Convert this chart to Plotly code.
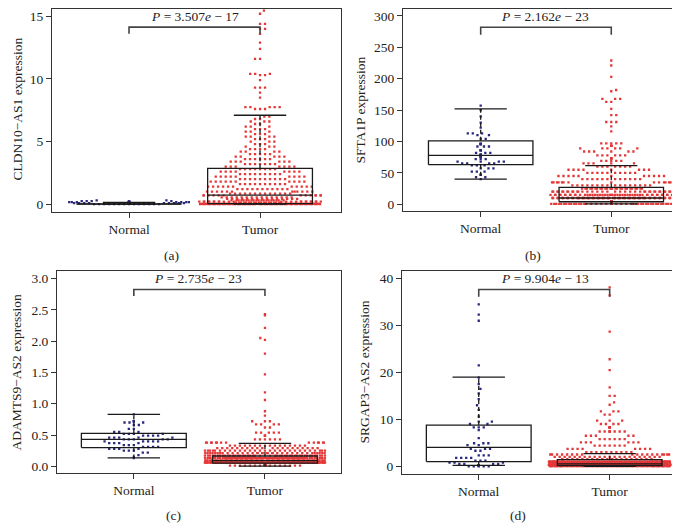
import numpy as np
import plotly.graph_objects as go

# ---------------- DATA ----------------
groups = ["Normal", "Tumor"]

# Panel (a) CLDN10-AS1 : value levels and number of points at each level
a_normal_vals = [0.0, 0.04, 0.08, 0.12, 0.16, 0.2, 0.25, 0.3]
a_normal_counts = [14, 10, 9, 8, 7, 5, 4, 2]
a_tumor_vals = [15.45, 15.2, 14.4, 14.0, 13.6, 12.9, 12.4, 11.6, 10.4, 10.3, 9.9, 9.3, 8.9, 8.5,
                7.75, 7.6, 7.0, 6.8, 6.6, 6.4, 6.2, 6.0, 5.8, 5.6, 5.4, 5.2, 5.0, 4.8, 4.6, 4.4,
                4.2, 4.0, 3.8, 3.6, 3.4, 3.2, 3.0, 2.8, 2.6, 2.4, 2.2, 2.0, 1.8, 1.6, 1.4, 1.2,
                1.0, 0.85, 0.7, 0.55, 0.42, 0.3, 0.2, 0.12, 0.06, 0.02, 0.0]
a_tumor_counts = [1, 1, 2, 2, 1, 1, 1, 2, 3, 2, 1, 3, 1, 1,
                  5, 3, 2, 2, 3, 2, 3, 3, 3, 3, 4, 3, 3, 3, 3, 4,
                  4, 5, 5, 6, 6, 7, 7, 8, 8, 9, 9, 10, 10, 10, 11, 11,
                  12, 13, 13, 15, 15, 20, 25, 25, 40, 40, 48]
a_normal_box = [0.0, 0.01, 0.03, 0.06, 0.15]   # lower whisker, Q1, median, Q3, upper whisker
a_tumor_box = [0.0, 0.05, 0.72, 2.86, 7.1]
a_ylabel = "CLDN10\u2212AS1 expression"
a_p = "<i>P</i> = 3.507<i>e</i> \u2212 17"
a_yticks = [0, 5, 10, 15]

# Panel (b) SFTA1P
b_normal_vals = [157, 150, 140, 130, 122, 113, 110, 104, 96, 92, 86, 82, 79, 76, 72, 68, 65, 62,
                 57, 52, 47, 43, 40]
b_normal_counts = [1, 1, 1, 1, 1, 3, 2, 2, 4, 3, 3, 3, 3, 4, 3, 4, 4, 3, 3, 3, 2, 2, 1]
b_tumor_vals = [229, 221, 203, 182, 180, 168, 163, 152, 142, 131, 124, 116,
                97, 93, 89, 84, 78, 73, 69, 65, 60, 55, 50, 45, 40, 35, 30, 25, 20, 15, 10, 5, 2, 0.5]
b_tumor_counts = [1, 1, 1, 1, 1, 3, 2, 1, 2, 3, 1, 1,
                  5, 5, 6, 6, 6, 5, 5, 5, 7, 8, 10, 11, 12, 14, 16, 26, 36, 48, 62, 95, 80, 40]
b_normal_box = [40, 63, 78, 101, 152]
b_tumor_box = [0.5, 4, 10, 27, 61.5]
b_ylabel = "SFTA1P expression"
b_p = "<i>P</i> = 2.162<i>e</i> \u2212 23"
b_yticks = [0, 50, 100, 150, 200, 250, 300]

# Panel (c) ADAMTS9-AS2
c_normal_vals = [0.83, 0.72, 0.70, 0.66, 0.60, 0.55, 0.52, 0.49, 0.46, 0.43, 0.40, 0.37, 0.34,
                 0.31, 0.28, 0.25, 0.22, 0.18, 0.15, 0.13]
c_normal_counts = [1, 3, 3, 2, 2, 3, 4, 4, 5, 5, 5, 4, 3, 4, 4, 3, 2, 1, 1, 1]
c_tumor_vals = [2.43, 2.41, 2.21, 2.05, 2.02, 1.80, 1.47, 1.18, 1.06, 0.88, 0.81, 0.72, 0.67,
                0.62, 0.54, 0.49, 0.43, 0.38, 0.33, 0.29, 0.25, 0.21, 0.17, 0.13, 0.09,
                0.06, 0.03, 0.01]
c_tumor_counts = [1, 1, 1, 1, 1, 1, 1, 1, 1, 1, 1, 3, 4,
                  2, 5, 3, 6, 14, 16, 20, 28, 35, 45, 70, 95,
                  95, 60, 15]
c_normal_box = [0.135, 0.30, 0.43, 0.525, 0.83]
c_tumor_box = [0.005, 0.05, 0.09, 0.165, 0.366]
c_ylabel = "ADAMTS9\u2212AS2 expression"
c_p = "<i>P</i> = 2.735<i>e</i> \u2212 23"
c_yticks = [0.0, 0.5, 1.0, 1.5, 2.0, 2.5, 3.0]

# Panel (d) SRGAP3-AS2
d_normal_vals = [34.5, 32.3, 31.0, 21.5, 18.9, 17.5, 16.5, 15.5, 14.3, 13.0, 12.0, 10.6, 9.5, 9.0,
                 8.3, 7.7, 6.0, 4.9, 4.5, 3.7, 3.3, 2.3, 1.8, 1.2, 0.8, 0.5, 0.2, 0.0]
d_normal_counts = [1, 1, 1, 1, 1, 1, 1, 1, 1, 1, 1, 1, 2, 2,
                   3, 1, 1, 3, 2, 3, 2, 3, 4, 3, 3, 4, 6, 5]
d_tumor_vals = [38.1, 36.4, 28.7, 22.8, 20.5, 16.8, 15.0, 13.6, 13.1, 11.7, 11.0, 9.7, 9.0, 8.3,
                7.4, 6.5, 5.8, 5.1, 4.4, 3.7, 3.0, 2.5, 2.0, 1.5, 1.0, 0.6, 0.3, 0.05]
d_tumor_counts = [1, 1, 1, 1, 1, 1, 2, 1, 1, 3, 2, 3, 4, 5,
                  8, 5, 6, 6, 7, 8, 10, 18, 22, 20, 90, 110, 120, 80]
d_normal_box = [0.2, 0.99, 4.0, 8.77, 18.97]
d_tumor_box = [0.0, 0.15, 0.5, 1.4, 2.7]
d_ylabel = "SRGAP3\u2212AS2 expression"
d_p = "<i>P</i> = 9.904<i>e</i> \u2212 13"
d_yticks = [0, 10, 20, 30, 40]

panel_letters = ["(a)", "(b)", "(c)", "(d)"]

# ---------------- LAYOUT / STYLE ----------------
W, H = 680, 527
FONT = "Liberation Serif"
NORMAL_COL = "rgb(40,40,125)"
TUMOR_COL = "rgb(228,55,55)"
LINE_COL = "#1a1a1a"

panels = [
    dict(nv=a_normal_vals, nc=a_normal_counts, tv=a_tumor_vals, tc=a_tumor_counts,
         nb=a_normal_box, tb=a_tumor_box, ylabel=a_ylabel, p=a_p, yticks=a_yticks, tfmt="",
         xpx=(44, 333), ypx=(0, 204), xr=(0.412, 2.618), yr=(-0.64, 15.58),
         br=(14.13, 13.6), ptxt=(187, 8), ytitle=(10, 101), letter=(163, 247)),
    dict(nv=b_normal_vals, nc=b_normal_counts, tv=b_tumor_vals, tc=b_tumor_counts,
         nb=b_normal_box, tb=b_tumor_box, ylabel=b_ylabel, p=b_p, yticks=b_yticks, tfmt="",
         xpx=(395, 679), ypx=(0, 203), xr=(0.405, 2.58), yr=(-11.1, 311),
         br=(282, 270), ptxt=(537, 8), ytitle=(353, 102), letter=(525, 247)),
    dict(nv=c_normal_vals, nc=c_normal_counts, tv=c_tumor_vals, tc=c_tumor_counts,
         nb=c_normal_box, tb=c_tumor_box, ylabel=c_ylabel, p=c_p, yticks=c_yticks, tfmt=".1f",
         xpx=(49, 333), ypx=(263, 466), xr=(0.414, 2.58), yr=(-0.11, 3.12),
         br=(2.825, 2.72), ptxt=(190, 271), ytitle=(9, 365), letter=(165, 508)),
    dict(nv=d_normal_vals, nc=d_normal_counts, tv=d_tumor_vals, tc=d_tumor_counts,
         nb=d_normal_box, tb=d_tumor_box, ylabel=d_ylabel, p=d_p, yticks=d_yticks, tfmt="",
         xpx=(394, 675), ypx=(263, 467), xr=(0.414, 2.56), yr=(-1.7, 41.6),
         br=(37.65, 36.1), ptxt=(537, 271), ytitle=(357, 365), letter=(510, 508)),
]

DOT_D = 5.0        # swarm spacing (px)
CORRAL = 61.0      # half width of the swarm corral (px)


def swarm(values, yscale, d, corral):
    """Beeswarm 'swarm' layout (ascending priority) with wrap corral; returns values and x offsets in px."""
    v = np.sort(np.asarray(values, float))
    ys = v * yscale
    xs = np.zeros(len(v))
    for i, y in enumerate(ys):
        if i > 0:
            py = ys[:i]
            px = xs[:i]
            m = np.abs(py - y) < d
            nx, ny = px[m], py[m]
        else:
            nx = ny = np.array([])
        cands = [0.0]
        if len(nx):
            off = np.sqrt(np.maximum(d * d - (ny - y) ** 2, 0))
            cands = np.concatenate([[0.0], nx + off, nx - off])
        sgn = 1 if i % 2 == 0 else -1
        cands = sorted(set(np.round(cands, 6)), key=lambda c: (abs(c), -sgn * c))
        chosen = 0.0
        for c in cands:
            if len(nx) == 0 or np.all((nx - c) ** 2 + (ny - y) ** 2 >= d * d - 1e-6):
                chosen = c
                break
        xs[i] = chosen
    xs = (xs + corral) % (2 * corral) - corral
    return v, xs


fig = go.Figure()
layout = dict(width=W, height=H, margin=dict(l=0, r=0, t=0, b=0),
              paper_bgcolor="white", plot_bgcolor="white", showlegend=False,
              font=dict(family=FONT, size=13, color="#222"))
annotations = []

for k, pn in enumerate(panels, start=1):
    xa = "x" if k == 1 else f"x{k}"
    ya = "y" if k == 1 else f"y{k}"
    xkey = "xaxis" if k == 1 else f"xaxis{k}"
    ykey = "yaxis" if k == 1 else f"yaxis{k}"
    x0, x1 = pn["xpx"]
    y0, y1 = pn["ypx"]
    xscale = (x1 - x0) / (pn["xr"][1] - pn["xr"][0])
    yscale = (y1 - y0) / (pn["yr"][1] - pn["yr"][0])

    for gi, (vals, cnts, col) in enumerate([(pn["nv"], pn["nc"], NORMAL_COL),
                                            (pn["tv"], pn["tc"], TUMOR_COL)]):
        data = np.repeat(np.asarray(vals, float), cnts)
        v, off = swarm(data, yscale, DOT_D, CORRAL)
        fig.add_trace(go.Scatter(x=gi + 1 + off / xscale, y=v, mode="markers",
                                 marker=dict(size=2.3, color=col, symbol="square", line=dict(width=0)),
                                 xaxis=xa, yaxis=ya, hoverinfo="skip"))

    for gi, st in enumerate([pn["nb"], pn["tb"]]):
        c = gi + 1
        lo, q1, med, q3, hi = st
        bw, sw = 0.4, 0.2
        fig.add_trace(go.Scatter(
            x=[c, c, None, c, c],
            y=[q3, hi, None, q1, lo],
            mode="lines", line=dict(color=LINE_COL, width=1.3, dash="4px,3px"),
            xaxis=xa, yaxis=ya, hoverinfo="skip"))
        fig.add_trace(go.Scatter(
            x=[c - bw, c + bw, c + bw, c - bw, c - bw, None, c - bw, c + bw, None,
               c - sw, c + sw, None, c - sw, c + sw],
            y=[q1, q1, q3, q3, q1, None, med, med, None, hi, hi, None, lo, lo],
            mode="lines", line=dict(color=LINE_COL, width=1.3),
            xaxis=xa, yaxis=ya, hoverinfo="skip"))

    top, foot = pn["br"]
    fig.add_trace(go.Scatter(x=[1, 1, 2, 2], y=[foot, top, top, foot], mode="lines",
                             line=dict(color="#444", width=1.6), xaxis=xa, yaxis=ya,
                             hoverinfo="skip"))

    layout[xkey] = dict(domain=[x0 / W, x1 / W], range=list(pn["xr"]), anchor=ya,
                        tickmode="array", tickvals=[1, 2], ticktext=groups,
                        showline=True, mirror=True, linecolor="#333", linewidth=1,
                        ticks="outside", ticklen=5, tickcolor="#333", showgrid=False,
                        zeroline=False, tickfont=dict(family=FONT, size=13.5, color="#222"))
    layout[ykey] = dict(domain=[1 - y1 / H, 1 - y0 / H], range=list(pn["yr"]), anchor=xa,
                        tickmode="array", tickvals=pn["yticks"], tickformat=pn["tfmt"],
                        showline=True, mirror=True, linecolor="#333", linewidth=1,
                        ticks="outside", ticklen=5, tickcolor="#333", showgrid=False,
                        zeroline=False, tickfont=dict(family=FONT, size=13.5, color="#222"))

    annotations.append(dict(text=pn["p"], x=pn["ptxt"][0] / W, y=1 - pn["ptxt"][1] / H,
                            xref="paper", yref="paper", showarrow=False,
                            xanchor="center", yanchor="middle",
                            font=dict(family=FONT, size=13.5, color="#222")))
    annotations.append(dict(text=pn["ylabel"], x=pn["ytitle"][0] / W, y=1 - pn["ytitle"][1] / H,
                            xref="paper", yref="paper", showarrow=False, textangle=-90,
                            xanchor="center", yanchor="middle",
                            font=dict(family=FONT, size=13.5, color="#222")))
    annotations.append(dict(text=panel_letters[k - 1], x=pn["letter"][0] / W, y=1 - pn["letter"][1] / H,
                            xref="paper", yref="paper", showarrow=False,
                            xanchor="center", yanchor="middle",
                            font=dict(family=FONT, size=13.5, color="#222")))

layout["annotations"] = annotations
fig.update_layout(**layout)
fig.write_html("out.html")
